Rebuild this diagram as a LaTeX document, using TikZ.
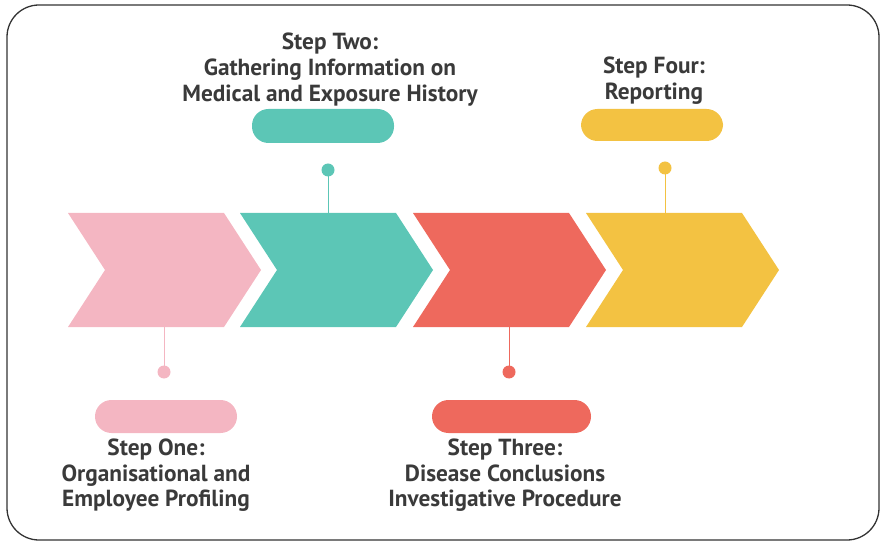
\documentclass[tikz,border=0pt]{standalone}
\usepackage{fontspec}
\setmainfont{PT Sans}
\begin{document}
\begin{tikzpicture}[x=1bp,y=-1bp,
  chevron/.style={fill=#1,draw=none},
  pill/.style={fill=#1,draw=none,rounded corners=16.5bp,inner sep=0pt},
  dot/.style={circle,fill=#1,draw=none,minimum size=13bp,inner sep=0pt},
  stem/.style={draw=#1,line width=1bp},
  steptext/.style={anchor=north,inner sep=0pt,align=center,text=txtgray,
    font=\fontsize{23.3bp}{25.8bp}\selectfont\bfseries}]
\definecolor{pinkc}{HTML}{F4B6C2}
\definecolor{tealc}{HTML}{5CC6B6}
\definecolor{redc}{HTML}{EE695D}
\definecolor{yellowc}{HTML}{F3C242}
\definecolor{txtgray}{HTML}{3A3A3A}
\useasboundingbox (0,0) rectangle (880,542);
% frame
\draw[line width=1.3bp,draw=black!80,rounded corners=32bp] (7,5) rectangle (879,540);
% chevrons
\foreach \x/\c/\n in {68/pinkc/1,240/tealc/2,413/redc/3,586/yellowc/4}{
  \fill[chevron=\c] (\x,213) -- ++(156,0) -- ++(37,57) -- ++(-37,57) -- ++(-156,0) -- ++(37,-57) -- cycle;
}
\coordinate (c1) at (164,327);
\coordinate (c2) at (328,213);
\coordinate (c3) at (509,327);
\coordinate (c4) at (665,213);
% dots
\node[dot=pinkc] (d1) at (164,372) {};
\node[dot=tealc] (d2) at (328,170) {};
\node[dot=redc] (d3) at (509,372) {};
\node[dot=yellowc] (d4) at (665,168) {};
% stems
\draw[stem=pinkc] (c1) -- (d1.center);
\draw[stem=tealc] (d2.center) -- (c2);
\draw[stem=redc] (c3) -- (d3.center);
\draw[stem=yellowc] (d4.center) -- (c4);
% pills
\path[pill=tealc] (252,109) rectangle (394,143);
\path[pill=yellowc] (581,109) rectangle (723,141);
\path[pill=pinkc] (95,400) rectangle (237,433);
\path[pill=redc] (432,400) rectangle (591,433);
% labels
\node[steptext] (t2) at (330,33) {Step Two:\\Gathering Information on\\Medical and Exposure History};
\node[steptext] (t4) at (654,57) {Step Four:\\Reporting};
\node[steptext] (t1) at (156,438.5) {Step One:\\Organisational and\\Employee Profiling};
\node[steptext] (t3) at (505,438.5) {Step Three:\\Disease Conclusions\\Investigative Procedure};
\end{tikzpicture}
\end{document}
